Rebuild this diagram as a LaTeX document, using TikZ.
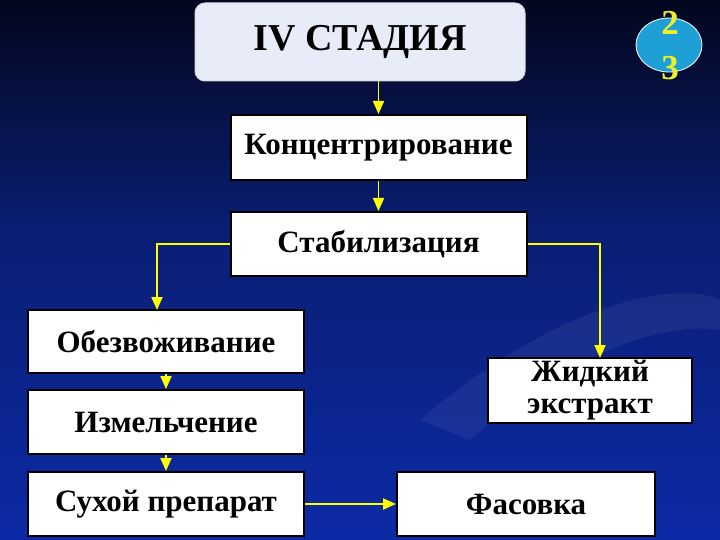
\documentclass[tikz,border=0pt]{standalone}
\usepackage{fontspec}
\setmainfont{Liberation Serif}
\usetikzlibrary{arrows.meta,shadings,shapes.geometric}
\definecolor{bgtop}{RGB}{3,6,30}
\definecolor{bgmid}{RGB}{10,30,115}
\definecolor{bgbot}{RGB}{12,42,165}
\definecolor{arr}{RGB}{255,255,0}
\definecolor{titlefill}{RGB}{232,236,248}
\definecolor{badge}{RGB}{30,160,215}
\definecolor{badgetext}{RGB}{240,240,40}
\tikzset{
  box/.style={draw=black, line width=2pt, fill=white, inner sep=0pt,
    font=\fontsize{31}{34}\selectfont\bfseries, align=center},
  conn/.style={draw=arr, line width=1.8pt, -{Triangle[length=13pt,width=11pt]}},
}
\begin{document}
\begin{tikzpicture}[x=1pt,y=-1pt]
\useasboundingbox (0,0) rectangle (720,540);
\shade[top color=bgtop, bottom color=bgmid] (0,0) rectangle (720,230);
\shade[top color=bgmid, bottom color=bgbot] (0,230) rectangle (720,540);
% faint swirl
\fill[white, opacity=0.06] (420,420) .. controls (560,300) and (680,280) .. (720,300) -- (720,330) .. controls (660,320) and (560,360) .. (470,440) -- cycle;
% title
\node[draw=white!85!black, line width=1pt, fill=titlefill, rounded corners=10pt,
  minimum width=330pt, minimum height=78pt, font=\fontsize{38}{42}\selectfont\bfseries]
  (title) at (360,42) {IV СТАДИЯ};
% badge
\node[ellipse, draw=white, line width=0.8pt, fill=badge, minimum width=66pt, minimum height=54pt, inner sep=0pt] (badge) at (669,45) {};
\node[text=badgetext, font=\fontsize{35}{45}\selectfont\bfseries, align=center, inner sep=0pt, anchor=base] (badgetxt) at (670,80) {2\\3};
% boxes
\node[box, minimum width=296pt, minimum height=65pt] (konc) at (378.5,147.5) {Концентрирование};
\node[box, minimum width=296pt, minimum height=64pt] (stab) at (378.5,244) {Стабилизация};
\node[box, minimum width=276pt, minimum height=63pt] (obez) at (166,341.5) {Обезвоживание};
\node[box, minimum width=276pt, minimum height=64pt] (izm) at (166,422) {Измельчение};
\node[box, minimum width=276pt, minimum height=64pt] (suh) at (166,504) {Сухой препарат};
\node[box, minimum width=204pt, minimum height=65pt, font=\fontsize{31}{32}\selectfont\bfseries] (zhid) at (590,390.5) {Жидкий\\экстракт};
\node[box, minimum width=258pt, minimum height=64pt] (fas) at (526,504) {Фасовка};
\coordinate (t1) at (konc.north |- title.south);
% connectors
\draw[conn] (t1) -- (konc.north);
\draw[conn] (konc.south) -- (stab.north);
\draw[conn] (stab.west) -- (157,244) -- (157,310);
\draw[conn] (stab.east) -- (600,244) -- (600,358);
\draw[conn] (obez.south) -- (izm.north);
\draw[conn] (izm.south) -- (suh.north);
\draw[conn] (suh.east) -- (fas.west);
\end{tikzpicture}
\end{document}
